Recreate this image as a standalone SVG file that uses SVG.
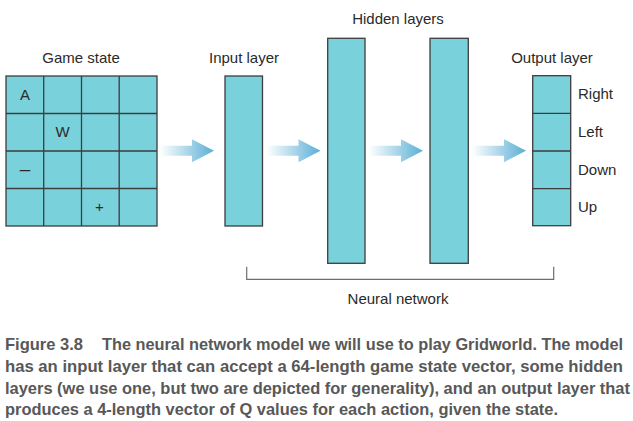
<svg xmlns="http://www.w3.org/2000/svg" width="633" height="421" viewBox="0 0 633 421">
<defs>
<linearGradient id="ag" x1="0" y1="0" x2="1" y2="0">
<stop offset="0" stop-color="#ffffff"/>
<stop offset="0.6" stop-color="#9ccfe6"/>
<stop offset="1" stop-color="#5aafd6"/>
</linearGradient>
<path id="arrow" d="M0,-5 H32 V-11.5 L54,0 L32,11.5 V5 H0 Z" fill="url(#ag)"/>
</defs>
<style>
.box{fill:#79d2db;stroke:#3d3d3d;stroke-width:1.3}
.ln{stroke:#3d3d3d;stroke-width:1.3;fill:none}
.lbl{font-family:"Liberation Sans",Arial,sans-serif;font-size:15px;fill:#2a2a2a}
.mid{text-anchor:middle}
.cap{font-family:"Liberation Sans",Arial,sans-serif;font-weight:bold;font-size:17px;fill:#585858}
.br{stroke:#6e6e6e;stroke-width:1.2;fill:none}
</style>
<rect width="633" height="421" fill="#ffffff"/>

<g id="game-state">
<text class="lbl mid" x="81" y="63">Game state</text>
<rect class="box" x="6" y="76" width="151" height="150"/>
<path class="ln" d="M43.7,76 V226 M81.5,76 V226 M119.2,76 V226 M6,113.5 H157 M6,151 H157 M6,188.5 H157"/>
<text class="lbl mid" x="25" y="100">A</text>
<text class="lbl mid" x="62.5" y="137">W</text>
<text class="lbl mid" x="25" y="175" style="font-size:19px">–</text>
<text class="lbl mid" x="99.5" y="212">+</text>
</g>

<g id="input-layer">
<text class="lbl mid" x="244" y="63">Input layer</text>
<rect class="box" x="225" y="76" width="37.5" height="150"/>
</g>

<g id="hidden-layers">
<text class="lbl mid" x="398" y="24">Hidden layers</text>
<rect id="hidden-1" class="box" x="327.7" y="38.3" width="37.3" height="225"/>
<rect id="hidden-2" class="box" x="430" y="38.3" width="38.3" height="225"/>
</g>

<g id="output-layer">
<text class="lbl mid" x="552" y="63">Output layer</text>
<rect class="box" x="532.7" y="75.7" width="38" height="150"/>
<path class="ln" d="M532.7,113.3 H570.7 M532.7,151 H570.7 M532.7,188.7 H570.7"/>
<text class="lbl" x="578" y="99">Right</text>
<text class="lbl" x="578" y="136.5">Left</text>
<text class="lbl" x="578" y="174.5">Down</text>
<text class="lbl" x="578" y="212">Up</text>
</g>

<g id="connectors">
<use href="#arrow" transform="translate(160,150.7)"/>
<use href="#arrow" transform="translate(266.5,150.7)"/>
<use href="#arrow" transform="translate(369,150.7)"/>
<use href="#arrow" transform="translate(472,150.7)"/>
</g>

<g id="neural-network">
<path class="br" d="M246.7,266.7 V279.3 H553.7 V266.7"/>
<text class="lbl mid" x="398" y="304">Neural network</text>
</g>

<g id="caption" transform="scale(0.95,1)">
<text class="cap" x="5.26" y="350"><tspan x="5.26" textLength="82.1" lengthAdjust="spacingAndGlyphs">Figure 3.8</tspan><tspan x="107.4" textLength="548.4" lengthAdjust="spacingAndGlyphs">The neural network model we will use to play Gridworld. The model</tspan></text>
<text class="cap" x="5.26" y="372" textLength="650.5" lengthAdjust="spacingAndGlyphs">has an input layer that can accept a 64-length game state vector, some hidden</text>
<text class="cap" x="5.26" y="394" textLength="657.9" lengthAdjust="spacingAndGlyphs">layers (we use one, but two are depicted for generality), and an output layer that</text>
<text class="cap" x="5.26" y="415.5" textLength="582.1" lengthAdjust="spacingAndGlyphs">produces a 4-length vector of Q values for each action, given the state.</text>
</g>
</svg>
